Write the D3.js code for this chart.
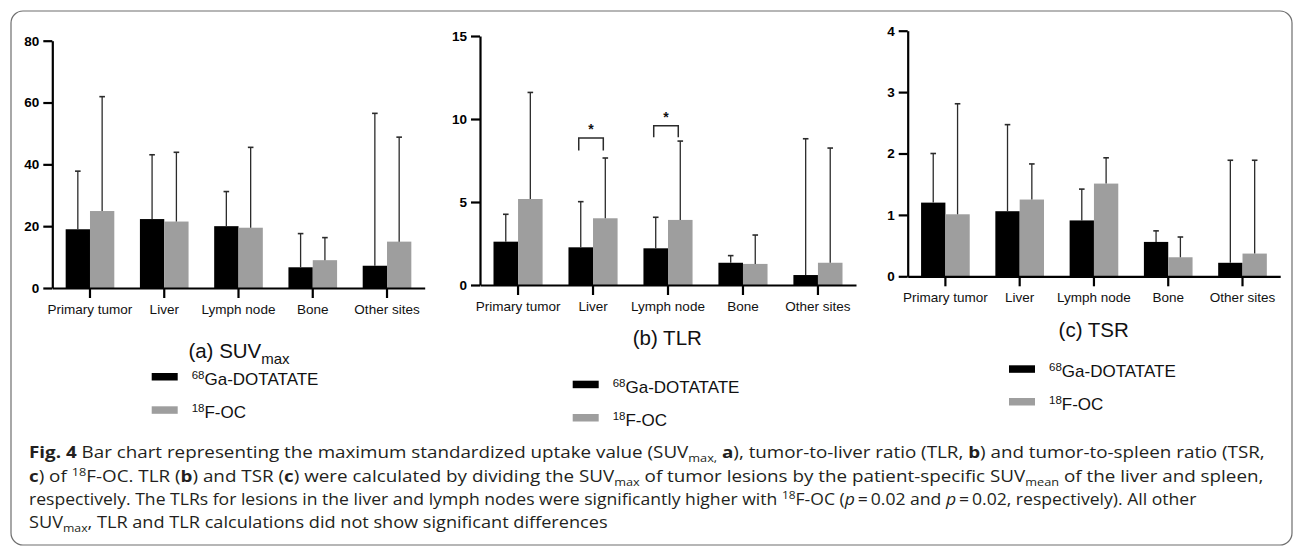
<!DOCTYPE html>
<html>
<head>
<meta charset="utf-8">
<script src="https://cdn.jsdelivr.net/npm/d3@7"></script>
<style>
  html, body { margin: 0; padding: 0; background: #fff; }
  svg { display: block; }
  .ytick text { font-weight: 700 !important; }
</style>
</head>
<body>
<svg id="chart" width="1295" height="548"></svg>
<script>
// ---------------- DATA ----------------
const categories = ["Primary tumor", "Liver", "Lymph node", "Bone", "Other sites"];
const seriesMass = ["68", "18"];
const seriesName = ["Ga-DOTATATE", "F-OC"];

// (a) SUVmax : means and upper SD
const suvGa   = [19.0, 22.3, 20.0, 6.7, 7.2];
const suvGaSD = [18.8, 20.8, 11.2, 10.9, 49.3];
const suvF    = [24.9, 21.5, 19.5, 9.0, 15.0];
const suvFSD  = [37.0, 22.4, 26.0, 7.3, 33.8];
const suvTicks = [0, 20, 40, 60, 80];

// (b) TLR
const tlrGa   = [2.61, 2.27, 2.21, 1.34, 0.60];
const tlrGaSD = [1.65, 2.75, 1.87, 0.43, 8.21];
const tlrF    = [5.18, 4.02, 3.92, 1.27, 1.34];
const tlrFSD  = [6.42, 3.63, 4.75, 1.74, 6.91];
const tlrTicks = [0, 5, 10, 15];

// (c) TSR
const tsrGa   = [1.20, 1.06, 0.91, 0.56, 0.22];
const tsrGaSD = [0.80, 1.41, 0.51, 0.18, 1.67];
const tsrF    = [1.01, 1.25, 1.51, 0.31, 0.37];
const tsrFSD  = [1.80, 0.58, 0.42, 0.33, 1.52];
const tsrTicks = [0, 1, 2, 3, 4];

// significance brackets in (b)
const sigCategories = ["Liver", "Lymph node"];
const sigTop = [8.86, 9.6];
const sigLeg = [8.1, 8.9];
const sigLabel = ["*", "*"];

// ---------------- LAYOUT ----------------
const svg = d3.select("#chart");
const FONT = "'Liberation Sans', Arial, sans-serif";
const colors = ["#000000", "#9e9e9e"];

// outer rounded frame
svg.append("rect")
  .attr("x", 11).attr("y", 11).attr("width", 1281).attr("height", 534)
  .attr("rx", 12).attr("ry", 12)
  .attr("fill", "none").attr("stroke", "#6e6e6e").attr("stroke-width", 1.2);

const panels = [
  { left: 52.3, right: 424.7, top: 40.7, bottom: 288, ticks: suvTicks,
    ga: suvGa, gaSD: suvGaSD, f: suvF, fSD: suvFSD,
    title: [["(a)  SUV", "n"], ["max", "sub"]], titleX: 239, titleY: 358.3,
    legX: 151.7, legY: [385, 418.3] },
  { left: 480, right: 856, top: 36, bottom: 285, ticks: tlrTicks,
    ga: tlrGa, gaSD: tlrGaSD, f: tlrF, fSD: tlrFSD,
    title: [["(b) TLR", "n"]], titleX: 667.3, titleY: 344.5,
    legX: 572.7, legY: [392.7, 426], sig: true },
  { left: 907.7, right: 1280.2, top: 30.7, bottom: 276.3, ticks: tsrTicks,
    ga: tsrGa, gaSD: tsrGaSD, f: tsrF, fSD: tsrFSD,
    title: [["(c) TSR", "n"]], titleX: 1093.7, titleY: 336.5,
    legX: 1009, legY: [377.3, 410] }
];

panels.forEach(cfg => {
  const g = svg.append("g");
  const x = d3.scaleBand().domain(categories)
    .range([cfg.left, cfg.right]).paddingInner(0.345).paddingOuter(0.18);
  const xs = d3.scaleBand().domain([0, 1]).range([0, x.bandwidth()]);
  const y = d3.scaleLinear().domain([0, d3.max(cfg.ticks)]).range([cfg.bottom, cfg.top]);

  const rows = categories.map((c, i) => ({
    c, vals: [cfg.ga[i], cfg.f[i]], sds: [cfg.gaSD[i], cfg.fSD[i]]
  }));

  const grp = g.selectAll("g.cat").data(rows).enter().append("g")
    .attr("class", "cat")
    .attr("transform", d => `translate(${x(d.c)},0)`);

  // bars
  grp.selectAll("rect").data(d => d.vals.map((v, k) => ({ v, k })))
    .enter().append("rect")
    .attr("x", d => xs(d.k))
    .attr("width", xs.bandwidth())
    .attr("y", d => y(d.v))
    .attr("height", d => y(0) - y(d.v))
    .attr("fill", d => colors[d.k]);

  // error bars (upper only)
  const eb = grp.selectAll("g.err").data(d => d.vals.map((v, k) => ({ v, k, sd: d.sds[k] })))
    .enter().append("g").attr("class", "err");
  eb.append("line")
    .attr("x1", d => xs(d.k) + xs.bandwidth() / 2)
    .attr("x2", d => xs(d.k) + xs.bandwidth() / 2)
    .attr("y1", d => y(d.v))
    .attr("y2", d => y(d.v + d.sd))
    .attr("stroke", "#2b2b2b").attr("stroke-width", 1.3);
  eb.append("line")
    .attr("x1", d => xs(d.k) + xs.bandwidth() / 2 - 2.8)
    .attr("x2", d => xs(d.k) + xs.bandwidth() / 2 + 2.8)
    .attr("y1", d => y(d.v + d.sd))
    .attr("y2", d => y(d.v + d.sd))
    .attr("stroke", "#2b2b2b").attr("stroke-width", 1.6);

  // axes
  const yAxis = d3.axisLeft(y).tickValues(cfg.ticks).tickSize(9).tickSizeOuter(0).tickPadding(4)
    .tickFormat(d3.format("d"));
  const ya = g.append("g").attr("class", "ytick").attr("transform", `translate(${cfg.left},0)`).call(yAxis);
  ya.attr("font-family", null).attr("font-size", null);
  ya.selectAll("text")
    .style("font-family", FONT).style("font-size", "13.5px").style("font-weight", "700")
    .attr("fill", "#000");

  const xAxis = d3.axisBottom(x).tickSize(10).tickSizeOuter(0).tickPadding(6);
  const xa = g.append("g").attr("transform", `translate(0,${cfg.bottom})`).call(xAxis);
  xa.selectAll("text").style("font-family", FONT).style("font-size", "13.5px").attr("fill", "#111");

  [ya, xa].forEach(a => {
    a.select(".domain").attr("stroke", "#000").attr("stroke-width", 2.2);
    a.selectAll(".tick line").attr("stroke", "#000").attr("stroke-width", 2.2);
  });

  // significance brackets
  if (cfg.sig) {
    sigCategories.forEach((c, i) => {
      const x1 = x(c) + xs(0) + xs.bandwidth() / 2 - 2;
      const x2 = x(c) + xs(1) + xs.bandwidth() / 2 - 2;
      g.append("path")
        .attr("d", `M${x1},${y(sigLeg[i])}V${y(sigTop[i])}H${x2}V${y(sigLeg[i])}`)
        .attr("fill", "none").attr("stroke", "#2b2b2b").attr("stroke-width", 1.5);
      g.append("text")
        .attr("x", (x1 + x2) / 2).attr("y", y(sigTop[i]) - 4)
        .attr("text-anchor", "middle")
        .attr("font-family", FONT).attr("font-size", 14).attr("font-weight", "bold")
        .attr("fill", "#111").text(sigLabel[i]);
    });
  }

  // title
  const t = g.append("text").attr("x", cfg.titleX).attr("y", cfg.titleY)
    .attr("text-anchor", "middle").attr("font-family", FONT).attr("font-size", 20.5).attr("fill", "#111");
  cfg.title.forEach(([s, kind]) => {
    if (kind === "sub") {
      t.append("tspan").attr("font-size", 15).attr("dy", 6).text(s);
    } else {
      t.append("tspan").text(s);
    }
  });

  // legend
  [0, 1].forEach(k => {
    const by = cfg.legY[k];
    g.append("rect").attr("x", cfg.legX).attr("y", by - 12).attr("width", 26).attr("height", 7.5)
      .attr("fill", colors[k]);
    const lt = g.append("text").attr("x", cfg.legX + 40).attr("y", by)
      .attr("font-family", FONT).attr("font-size", 17).attr("fill", "#111");
    lt.append("tspan").attr("font-size", 11.5).attr("dy", -6).text(seriesMass[k]);
    lt.append("tspan").attr("dy", 6).text(seriesName[k]);
  });
});

// ---------------- CAPTION ----------------
const CAP_FONT = "'Open Sans', 'Noto Sans', sans-serif";
const captionLines = [
  { end: 1266, segs: [["Fig. 4", "b"], ["  Bar chart representing the maximum standardized uptake value (SUV", "n"], ["max,", "sub"], [" ", "n"], ["a", "b"], ["), tumor-to-liver ratio (TLR, ", "n"], ["b", "b"], [") and tumor-to-spleen ratio (TSR,", "n"]] },
  { end: 1264, segs: [["c", "b"], [") of ", "n"], ["18", "sup"], ["F-OC. TLR (", "n"], ["b", "b"], [") and TSR (", "n"], ["c", "b"], [") were calculated by dividing the SUV", "n"], ["max", "sub"], [" of tumor lesions by the patient-specific SUV", "n"], ["mean", "sub"], [" of the liver and spleen,", "n"]] },
  { end: 1197, segs: [["respectively. The TLRs for lesions in the liver and lymph nodes were significantly higher with ", "n"], ["18", "sup"], ["F-OC (", "n"], ["p", "i"], ["\u2009=\u20090.02 and ", "n"], ["p", "i"], ["\u2009=\u20090.02, respectively). All other", "n"]] },
  { end: 608, segs: [["SUV", "n"], ["max", "sub"], [", TLR and TLR calculations did not show significant differences", "n"]] }
];
const capX = 29;
const capY = [458, 481.5, 505, 528];
captionLines.forEach((line, li) => {
  const lg = svg.append("g");
  const txt = lg.append("text").attr("x", 0).attr("y", 0)
    .attr("font-family", CAP_FONT).attr("font-size", 15.5).attr("fill", "#231f20");
  let shift = 0;
  line.segs.forEach(([s, kind]) => {
    const ts = txt.append("tspan").text(s);
    let target = 0;
    if (kind === "b") ts.attr("font-weight", "bold");
    if (kind === "i") ts.attr("font-style", "italic");
    if (kind === "sub") { ts.attr("font-size", 10.5); target = 4; }
    if (kind === "sup") { ts.attr("font-size", 10.5); target = -6; }
    ts.attr("dy", target - shift);
    shift = target;
  });
  const w = txt.node().getComputedTextLength();
  const s = (line.end - capX) / w;
  lg.attr("transform", `translate(${capX},${capY[li]}) scale(${s},1)`);
});
</script>
</body>
</html>
